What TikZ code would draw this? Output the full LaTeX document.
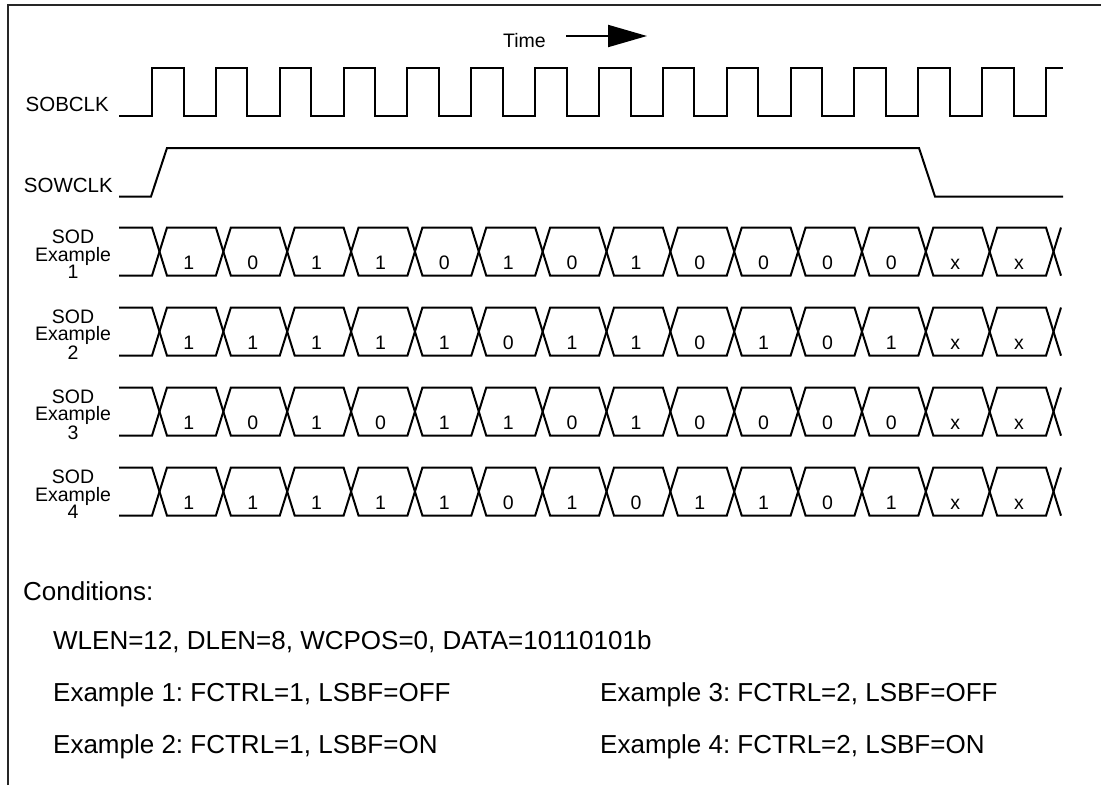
\documentclass[tikz,border=0pt]{standalone}
\usepackage{fontspec}
\setmainfont{Liberation Sans}
\usetikzlibrary{arrows.meta}
\begin{document}
\frenchspacing
\begin{tikzpicture}[x=1pt,y=-1pt,
  sig/.style={line width=2pt, line join=miter},
  frame/.style={line width=2pt, draw=black!85},
  lbl/.style={font=\fontsize{19.5}{17.5}\selectfont, inner sep=0pt},
  siglbl/.style={font=\fontsize{20.5}{20}\selectfont, inner sep=0pt, anchor=base east},
  bit/.style={font=\fontsize{19.5}{20}\selectfont, inner sep=0pt, anchor=base},
  cond/.style={font=\fontsize{26}{30}\selectfont, inner sep=0pt, anchor=base west}]
\useasboundingbox (0,0) rectangle (1101,785);
\def\per{63.86}
% frame (cropped)
\draw[frame] (8,785) -- (8,5) -- (1101,5);
% time arrow
\node[lbl, anchor=base west] (time) at (503,47) {Time};
\coordinate (ta0) at (566,36);
\coordinate (ta1) at (647,36);
\draw[line width=2pt, -{Triangle[length=39pt,width=22pt]}] (ta0) -- (ta1);
% labels
\node[siglbl] (sobclk) at (109,111) {SOBCLK};
\node[siglbl] (sowclk) at (113,192) {SOWCLK};
% SOBCLK
\draw[sig] (119,116) foreach \i in {0,...,13} {
  -- ({152+\i*\per},116) -- ({152+\i*\per},68) -- ({183.5+\i*\per},68) -- ({183.5+\i*\per},116) }
  -- (1046,116) -- (1046,68) -- (1063,68);
% SOWCLK
\draw[sig] (119,196.5) -- (151,196.5) -- (167,148) -- (919,148) -- (935,196.5) -- (1063,196.5);
% data rows
\foreach \k/\vals in {0/{1,0,1,1,0,1,0,1,0,0,0,0,x,x},
                      1/{1,1,1,1,1,0,1,1,0,1,0,1,x,x},
                      2/{1,0,1,0,1,1,0,1,0,0,0,0,x,x},
                      3/{1,1,1,1,1,0,1,0,1,1,0,1,x,x}} {
  \pgfmathsetmacro{\T}{227.5+80*\k}
  \pgfmathsetmacro{\B}{275.7+80*\k}
  \draw[sig] (119,\T) foreach \j in {0,...,6} {
    -- ({152+2*\j*\per},\T) -- ({167+2*\j*\per},\B) -- ({152+(2*\j+1)*\per},\B) -- ({167+(2*\j+1)*\per},\T) }
    -- (1046,\T) -- (1061,\B);
  \draw[sig] (119,\B) foreach \j in {0,...,6} {
    -- ({152+2*\j*\per},\B) -- ({167+2*\j*\per},\T) -- ({152+(2*\j+1)*\per},\T) -- ({167+(2*\j+1)*\per},\B) }
    -- (1046,\B) -- (1061,\T);
  \foreach \v [count=\n from 0] in \vals {
    \node[bit] (d\k-\n) at ({188.9+\n*\per},{\B-6}) {\v};
  }
  \pgfmathtruncatemacro{\ex}{\k+1}
  \node[lbl, align=center] (sod\k) at (73,{\T+27}) {SOD\\Example\\\ex};
}
% conditions
\node[cond] (c0) at (23,600) {Conditions:};
\node[cond] (c1) at (53,649) {WLEN=12, DLEN=8, WCPOS=0, DATA=10110101b};
\node[cond] (c2) at (53,701) {Example 1: FCTRL=1, LSBF=OFF};
\node[cond] (c3) at (53,753) {Example 2: FCTRL=1, LSBF=ON};
\node[cond] (c4) at (600,701) {Example 3: FCTRL=2, LSBF=OFF};
\node[cond] (c5) at (600,753) {Example 4: FCTRL=2, LSBF=ON};
\end{tikzpicture}
\end{document}
